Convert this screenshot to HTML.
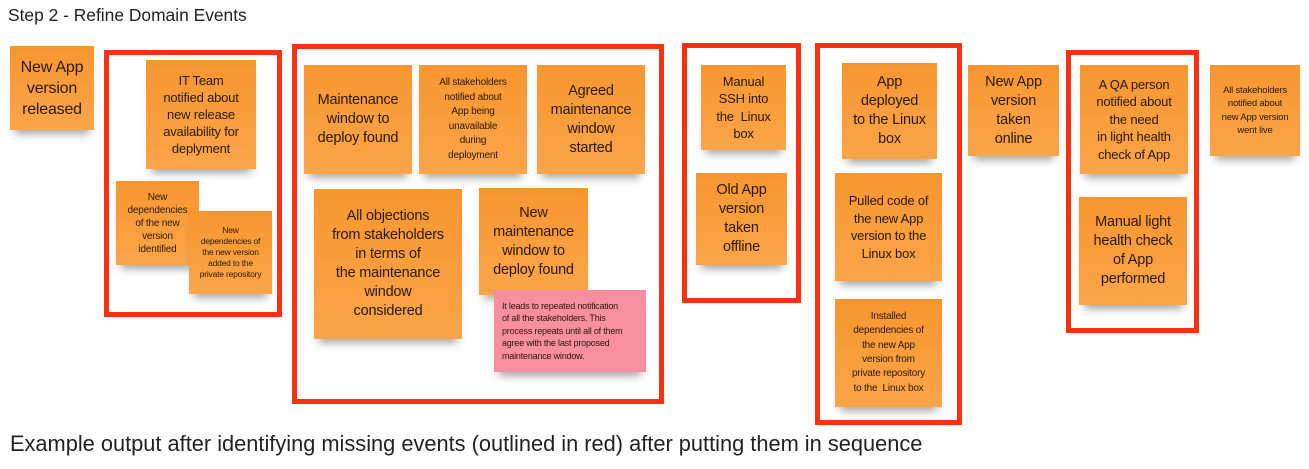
<!DOCTYPE html>
<html><head><meta charset="utf-8"><style>
body{margin:0;width:1309px;height:469px;background:#fff;position:relative;overflow:hidden;font-family:"Liberation Sans",sans-serif;color:#222}
.s{position:absolute;background:linear-gradient(#f7962f,#faa54a);display:flex;align-items:center;justify-content:center;text-align:center;box-shadow:0 9px 8px -5px rgba(0,0,0,.35);font-size:14.5px;line-height:19px;color:#2a1a0a;letter-spacing:-0.2px}
.m{font-size:10px;line-height:13px}
.r{position:absolute;border:5px solid #fa3112;box-sizing:border-box}
.t{position:absolute}
</style></head><body>
<div class="t" style="left:8px;top:5px;font-size:17.4px">Step 2 - Refine Domain Events</div>
<div class="t" style="left:10px;top:431px;font-size:21.8px">Example output after identifying missing events (outlined in red) after putting them in sequence</div>

<div class="r" style="left:104px;top:50px;width:178px;height:267px"></div>
<div class="r" style="left:292px;top:44px;width:372px;height:360px"></div>
<div class="r" style="left:682px;top:43px;width:119px;height:260px"></div>
<div class="r" style="left:815px;top:43px;width:147px;height:382px"></div>
<div class="r" style="left:1066px;top:50px;width:133px;height:283px"></div>

<div class="s" style="left:10px;top:46px;width:84px;height:84px;font-size:16px;line-height:21px">New App<br>version<br>released</div>
<div class="s" style="left:146px;top:60px;width:110px;height:109px;font-size:13px;line-height:17px">IT Team<br>notified about<br>new release<br>availability for<br>deplyment</div>
<div class="s m" style="left:116px;top:181px;width:83px;height:84px">New<br>dependencies<br>of the new<br>version<br>identified</div>
<div class="s m" style="left:189px;top:211px;width:83px;height:83px;font-size:8.5px;line-height:11px">New<br>dependencies of<br>the new version<br>added to the<br>private repository</div>

<div class="s" style="left:304px;top:65px;width:108px;height:109px">Maintenance<br>window to<br>deploy found</div>
<div class="s m" style="left:419px;top:65px;width:108px;height:109px;line-height:14.5px">All stakeholders<br>notified about<br>App being<br>unavailable<br>during<br>deployment</div>
<div class="s" style="left:537px;top:65px;width:108px;height:109px">Agreed<br>maintenance<br>window<br>started</div>
<div class="s" style="left:314px;top:189px;width:148px;height:150px">All objections<br>from stakeholders<br>in terms of<br>the maintenance<br>window<br>considered</div>
<div class="s" style="left:479px;top:188px;width:109px;height:107px">New<br>maintenance<br>window to<br>deploy found</div>
<div class="s m" style="left:494px;top:290px;width:152px;height:82px;background:#f78fa0;text-align:left;justify-content:flex-start;padding-left:8px;box-sizing:border-box;font-size:9px;line-height:12.5px">It leads to repeated notification<br>of all the stakeholders. This<br>process repeats until all of them<br>agree with the last proposed<br>maintenance window.</div>

<div class="s" style="left:701px;top:65px;width:85px;height:85px;font-size:13px;line-height:17.5px">Manual<br>SSH into<br>the&nbsp; Linux<br>box</div>
<div class="s" style="left:696px;top:173px;width:91px;height:92px">Old App<br>version<br>taken<br>offline</div>
<div class="s" style="left:842px;top:63px;width:95px;height:96px">App<br>deployed<br>to the Linux<br>box</div>
<div class="s" style="left:835px;top:173px;width:107px;height:108px;font-size:13px;line-height:17.5px">Pulled code of<br>the new App<br>version to the<br>Linux box</div>
<div class="s m" style="left:835px;top:299px;width:107px;height:108px;line-height:14.3px">Installed<br>dependencies of<br>the new App<br>version from<br>private repository<br>to the&nbsp; Linux box</div>
<div class="s" style="left:968px;top:65px;width:91px;height:91px">New App<br>version<br>taken<br>online</div>
<div class="s" style="left:1080px;top:65px;width:108px;height:109px;font-size:13px;line-height:17.5px">A QA person<br>notified about<br>the need<br>in light health<br>check of App</div>
<div class="s" style="left:1079px;top:197px;width:108px;height:108px">Manual light<br>health check<br>of App<br>performed</div>
<div class="s m" style="left:1210px;top:65px;width:90px;height:91px;font-size:9.5px;line-height:13.5px">All stakeholders<br>notified about<br>new App version<br>went live</div>
</body></html>
